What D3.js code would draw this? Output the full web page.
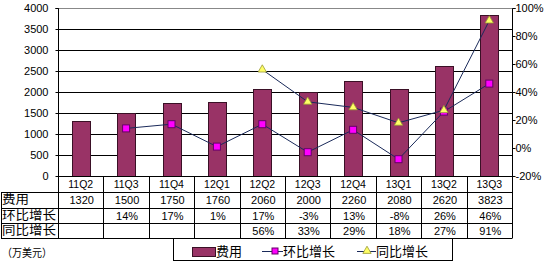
<!DOCTYPE html>
<html><head><meta charset="utf-8">
<script src="https://cdn.jsdelivr.net/npm/d3@7"></script>
<style>
html,body{margin:0;padding:0;background:#fff;}
svg{display:block;}
text{font-family:"Liberation Sans",Arial,"Noto Sans CJK SC",sans-serif;}
.cjk{font-family:"Noto Sans CJK SC",sans-serif;}
</style></head><body>
<svg id="c" width="544" height="262"></svg>
<script>
const categories = ["11Q2","11Q3","11Q4","12Q1","12Q2","12Q3","12Q4","13Q1","13Q2","13Q3"];
const expense = [1320,1500,1750,1760,2060,2000,2260,2080,2620,3823];
const qoq = [null,14,17,1,17,-3,13,-8,26,46];
const yoy = [null,null,null,null,56,33,29,18,27,91];
const leftTicks = [0,500,1000,1500,2000,2500,3000,3500,4000];
const rightTicks = [-20,0,20,40,60,80,100];
const rowLabels = ["费用","环比增长","同比增长"];
const unitLabel = "（万美元）";

const svg = d3.select("#c");
const L = 58, R = 512, T = 8, B = 176;
const x = d3.scaleBand().domain(categories).range([L, R]).paddingInner(0).paddingOuter(0);
const yL = d3.scaleLinear().domain([0,4000]).range([B, T]);
const yR = d3.scaleLinear().domain([-20,100]).range([B, T]);

// gridlines
svg.append("g").selectAll("line").data(leftTicks.filter(d=>d>0 && d<4000)).join("line")
  .attr("x1", L).attr("x2", R).attr("y1", d=>yL(d)+0.5).attr("y2", d=>yL(d)+0.5)
  .attr("stroke", "#000").attr("stroke-width", 1);
svg.append("line").attr("x1", L).attr("x2", R).attr("y1", T+0.5).attr("y2", T+0.5)
  .attr("stroke", "#888");

// bars
const bw = 18;
svg.append("g").selectAll("rect").data(expense).join("rect")
  .attr("x", (d,i)=>Math.round(x(categories[i]) + x.bandwidth()/2 - bw/2)+0.5)
  .attr("y", d=>Math.round(yL(d))+0.5)
  .attr("width", bw)
  .attr("height", d=>B - Math.round(yL(d)))
  .attr("fill", "#993366").attr("stroke", "#3a1026").attr("stroke-width", 1);

// axes
const axL = d3.axisLeft(yL).tickValues(leftTicks).tickSize(3).tickFormat(d=>d);
const gL = svg.append("g").attr("transform", `translate(${L+0.5},0)`).call(axL);
gL.select(".domain").attr("stroke","#000").attr("d", `M-3,${T+0.5}H0V${B}`);
gL.selectAll("text").attr("x", -10).attr("font-size", 11).attr("fill","#000");
gL.selectAll(".tick line").attr("stroke","#000");

const axR = d3.axisRight(yR).tickValues(rightTicks).tickSize(3).tickFormat(d=>d+"%");
const gR = svg.append("g").attr("transform", `translate(${R+0.5},0)`).call(axR);
gR.select(".domain").attr("stroke","#000").attr("d", `M3,${T+0.5}H0V${B}`);
gR.selectAll("text").attr("x", 3).attr("font-size", 11).attr("fill","#000");
gR.selectAll(".tick line").attr("stroke","#000");

// lines
function pts(arr){ return arr.map((v,i)=>({v,i})).filter(p=>p.v!==null); }
const lineGen = d3.line().x(p=>x(categories[p.i]) + x.bandwidth()/2).y(p=>yR(p.v));
svg.append("path").attr("d", lineGen(pts(yoy))).attr("fill","none").attr("stroke","#1a2a5a").attr("stroke-width",1);
svg.append("path").attr("d", lineGen(pts(qoq))).attr("fill","none").attr("stroke","#1a2a5a").attr("stroke-width",1);

svg.append("g").selectAll("rect").data(pts(qoq)).join("rect")
  .attr("x", p=>x(categories[p.i]) + x.bandwidth()/2 - 3.5)
  .attr("y", p=>yR(p.v)-3.5).attr("width",7).attr("height",7)
  .attr("fill","#ff00ff").attr("stroke","#660066").attr("stroke-width",1);
const tri = d3.symbol().type(d3.symbolTriangle).size(30);
svg.append("g").selectAll("path").data(pts(yoy)).join("path")
  .attr("transform", p=>`translate(${x(categories[p.i]) + x.bandwidth()/2},${yR(p.v)})`)
  .attr("d", tri).attr("fill","#ffff66").attr("stroke","#999933").attr("stroke-width",0.8);

// table
const tg = svg.append("g");
[192,207.5,223,238].forEach(yv=>{
  tg.append("line").attr("x1",1).attr("x2",R).attr("y1",Math.round(yv)+0.5).attr("y2",Math.round(yv)+0.5).attr("stroke","#000");
});
tg.append("line").attr("x1",L).attr("x2",R).attr("y1",B+0.5).attr("y2",B+0.5).attr("stroke","#000");
const cols = categories.map(c=>x(c)).concat([R]);
cols.forEach(cx=>{
  tg.append("line").attr("x1",Math.round(cx)+0.5).attr("x2",Math.round(cx)+0.5).attr("y1",B).attr("y2",238.5).attr("stroke","#000");
});
tg.append("line").attr("x1",1.5).attr("x2",1.5).attr("y1",192).attr("y2",238.5).attr("stroke","#000");

tg.selectAll("text.cat").data(categories).join("text").attr("class","cat")
  .attr("x", d=>x(d)+x.bandwidth()/2).attr("y", 188)
  .attr("text-anchor","middle").attr("font-size",10.5).text(d=>d);
rowLabels.forEach((t,i)=>{
  tg.append("text").attr("class","cjk").attr("x",2).attr("y",[204,219.5,235][i])
    .attr("font-size",12).attr("textLength", t.length*13.5).attr("lengthAdjust","spacingAndGlyphs").text(t);
});
const rowData = [expense.map(d=>String(d)), qoq.map(d=>d===null?"":d+"%"), yoy.map(d=>d===null?"":d+"%")];
rowData.forEach((arr,ri)=>{
  tg.selectAll("text.r"+ri).data(arr).join("text").attr("class","r"+ri)
    .attr("x",(d,i)=>x(categories[i])+x.bandwidth()/2+1).attr("y",[204,219.5,235][ri])
    .attr("text-anchor","middle").attr("font-size",11).text(d=>d);
});

svg.append("text").attr("class","cjk").attr("x",2).attr("y",257).attr("font-size",11)
  .attr("textLength",50).attr("lengthAdjust","spacingAndGlyphs").text(unitLabel);

// legend
const lg = svg.append("g");
lg.append("rect").attr("x",173.5).attr("y",238.5).attr("width",279).attr("height",22).attr("fill","#fff").attr("stroke","#000");
lg.append("rect").attr("x",192.5).attr("y",247.5).attr("width",23).attr("height",9).attr("fill","#993366").attr("stroke","#3a1026");
lg.append("text").attr("class","cjk").attr("x",216).attr("y",256).attr("font-size",13).text("费用");
lg.append("line").attr("x1",262).attr("x2",283).attr("y1",251.5).attr("y2",251.5).attr("stroke","#1a2a5a");
lg.append("rect").attr("x",272).attr("y",248).attr("width",6).attr("height",6).attr("fill","#ff00ff").attr("stroke","#660066");
lg.append("text").attr("class","cjk").attr("x",283).attr("y",256).attr("font-size",13).text("环比增长");
lg.append("line").attr("x1",357).attr("x2",376).attr("y1",251.5).attr("y2",251.5).attr("stroke","#1a2a5a");
lg.append("path").attr("transform","translate(367,251)").attr("d",tri).attr("fill","#ffff66").attr("stroke","#999933").attr("stroke-width",0.8);
lg.append("text").attr("class","cjk").attr("x",376).attr("y",256).attr("font-size",13).text("同比增长");
</script>
</body></html>
